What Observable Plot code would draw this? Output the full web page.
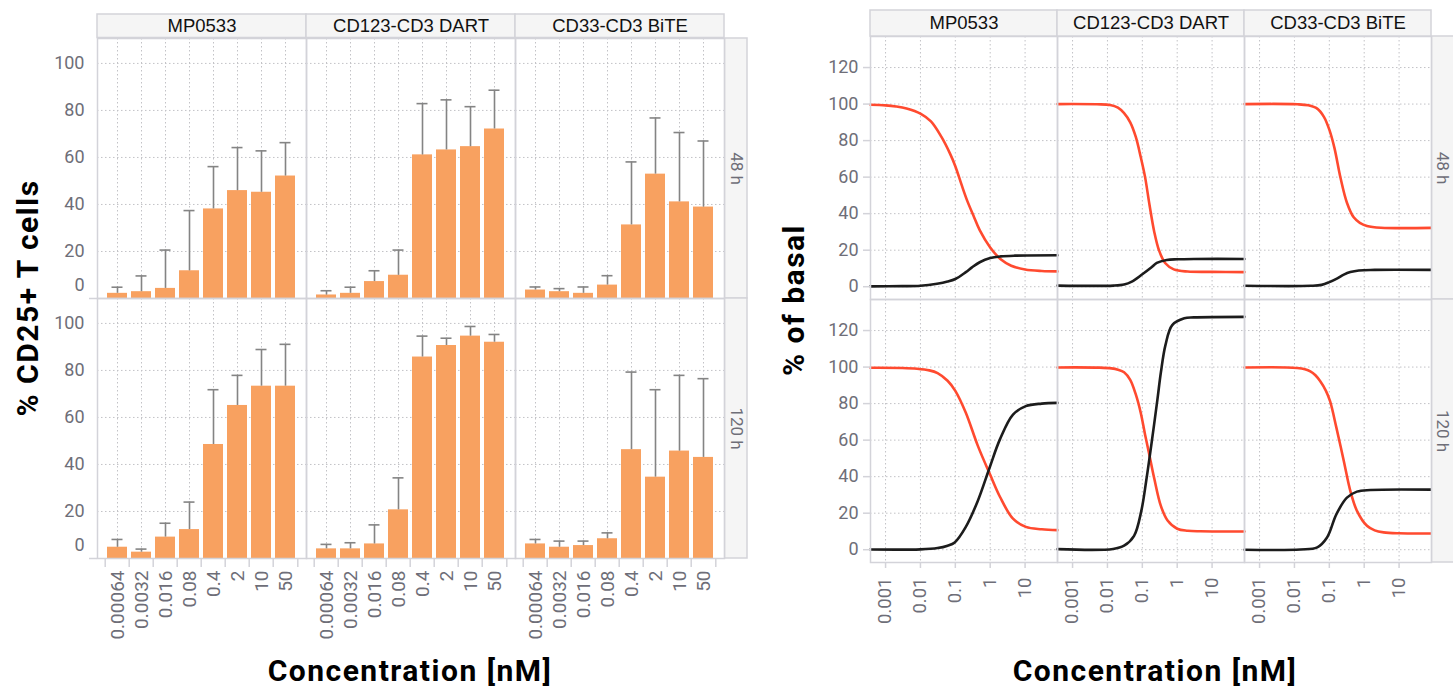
<!DOCTYPE html>
<html><head><meta charset="utf-8">
<script src="https://cdn.jsdelivr.net/npm/d3@7"></script>
<script src="https://cdn.jsdelivr.net/npm/@observablehq/plot@0.6"></script>
<style>
body{margin:0;background:#fff;}
#wrap{position:relative;width:1453px;height:689px;overflow:hidden;background:#fff;}
#left,#right{position:absolute;top:0;}
#left{left:0;} #right{left:760px;}
.title{position:absolute;font-family:Roboto,sans-serif;font-weight:700;font-size:30px;letter-spacing:1.5px;color:#000;white-space:nowrap;transform:translate(-50%,-50%);line-height:1;}
.rot{transform:translate(-50%,-50%) rotate(-90deg);}
</style></head><body>
<div id="wrap"><div id="left"></div><div id="right"></div></div>
<script>
// ---------- categories / labels ----------
const drugs = ["MP0533", "CD123-CD3 DART", "CD33-CD3 BiTE"];
const times = ["48 h", "120 h"];
const concLabels = ["0.00064", "0.0032", "0.016", "0.08", "0.4", "2", "10", "50"];
const yTitleLeft = "% CD25+ T cells";
const yTitleRight = "% of basal";
const xTitle = "Concentration [nM]";

// ---------- bar chart values (mean and upper error) ----------
const mp0533_48h_mean = [2.2, 2.9, 4.3, 11.8, 38.1, 45.9, 45.2, 52.1];
const mp0533_48h_sd   = [2.6, 6.7, 16.3, 25.6, 18.0, 18.3, 17.6, 14.2];
const cd123_48h_mean  = [1.5, 2.2, 7.2, 9.9, 61.1, 63.2, 64.6, 72.1];
const cd123_48h_sd    = [1.8, 2.6, 4.6, 10.7, 21.8, 21.3, 17.0, 16.5];
const cd33_48h_mean   = [3.6, 2.9, 2.2, 5.7, 31.3, 52.9, 41.1, 38.9];
const cd33_48h_sd     = [1.3, 1.3, 2.7, 4.0, 26.8, 23.9, 29.5, 28.1];
const mp0533_120h_mean = [4.8, 2.7, 9.1, 12.3, 48.5, 65.1, 73.3, 73.3];
const mp0533_120h_sd   = [3.3, 1.3, 5.9, 11.7, 23.3, 12.8, 15.6, 17.8];
const cd123_120h_mean  = [4.1, 4.1, 6.2, 20.7, 85.7, 90.6, 94.6, 92.0];
const cd123_120h_sd    = [1.9, 2.6, 8.1, 13.6, 8.9, 3.1, 4.1, 3.3];
const cd33_120h_mean   = [6.2, 4.8, 5.5, 8.4, 46.3, 34.6, 45.7, 43.0];
const cd33_120h_sd     = [1.9, 2.6, 1.9, 2.5, 33.0, 37.2, 32.2, 33.5];

// ---------- curve values [concentration nM, % of basal] ----------
const curveTicks = [0.001, 0.01, 0.1, 1, 10];
const curveTickLabels = ["0.001", "0.01", "0.1", "1", "10"];
const mp0533_48h_red = [[0.00037,99.6],[0.001,99.3],[0.002,98.7],[0.004,97.6],[0.01,94.8],[0.02,90.5],[0.04,82],[0.07,73],[0.1,66],[0.15,56],[0.22,47],[0.33,39],[0.5,31],[1,21.5],[2,15],[4,11.5],[10,9.4],[30,8.6],[85,8.4]];
const mp0533_48h_black = [[0.00037,0.2],[0.003,0.3],[0.01,0.5],[0.03,1.6],[0.06,2.8],[0.1,4.2],[0.2,8],[0.3,10.6],[0.5,13.4],[1,15.7],[2,16.6],[5,17],[85,17.2]];
const cd123_48h_red = [[0.00037,100],[0.005,99.9],[0.012,99.5],[0.02,98],[0.03,95],[0.045,90],[0.065,82],[0.09,71],[0.12,60],[0.16,45],[0.22,30],[0.3,20],[0.45,13],[0.8,9.5],[2,8.3],[10,8.1],[85,8]];
const cd123_48h_black = [[0.00037,0.6],[0.015,0.6],[0.03,1.2],[0.05,2.8],[0.1,6.8],[0.18,10.5],[0.26,13],[0.5,14.6],[1,15],[3,15.2],[85,15.2]];
const cd33_48h_red = [[0.00037,100],[0.012,99.9],[0.025,99.3],[0.045,97.5],[0.07,93],[0.1,86],[0.14,76],[0.21,59.5],[0.32,46],[0.5,38],[0.75,35],[1.2,33.3],[3,32.3],[85,32.2]];
const cd33_48h_black = [[0.00037,0.5],[0.03,0.5],[0.06,1],[0.1,2.5],[0.17,4.6],[0.26,6.6],[0.4,8],[0.7,8.9],[2,9.2],[85,9.2]];
const mp0533_120h_red = [[0.00037,99.6],[0.003,99.5],[0.008,99.1],[0.018,98.2],[0.031,96.7],[0.06,92.5],[0.1,87],[0.2,75],[0.44,57],[1,41],[1.9,29],[4.5,17],[10.5,12.5],[30,11.2],[85,10.7]];
const mp0533_120h_black = [[0.00037,0.1],[0.01,0.2],[0.031,0.9],[0.06,2.2],[0.096,4],[0.2,12.5],[0.44,26.7],[0.96,44.9],[1.9,60.4],[4.5,74],[10.5,78.6],[30,80],[85,80.4]];
const cd123_120h_red = [[0.00037,99.8],[0.006,99.7],[0.013,99.3],[0.02,98.6],[0.03,97.2],[0.045,93],[0.065,85],[0.09,75],[0.12,63],[0.155,53],[0.22,39],[0.34,24],[0.53,16],[1,11.5],[2,10.4],[4.6,10.1],[85,10]];
const cd123_120h_black = [[0.00037,0.3],[0.0145,0.4],[0.03,2.2],[0.058,7.6],[0.093,21],[0.13,38],[0.18,57],[0.27,82],[0.34,97],[0.46,112],[0.72,123],[1.6,126.7],[3,127.2],[85,127.5]];
const cd33_120h_red = [[0.00037,99.8],[0.006,99.8],[0.012,99.5],[0.02,98.8],[0.0285,97.7],[0.04,95.5],[0.055,92.2],[0.08,87],[0.105,81.3],[0.16,66.7],[0.26,48.6],[0.4,32.2],[0.62,21.3],[1.2,13.1],[2,10.6],[3.6,9.5],[10,9],[85,8.9]];
const cd33_120h_black = [[0.00037,0],[0.015,0.1],[0.045,1.3],[0.086,6.7],[0.16,19.5],[0.32,28.5],[0.62,31.8],[1.5,32.7],[85,32.9]];

// ---------- build tables ----------
const barSeries = [
  [drugs[0], times[0], mp0533_48h_mean, mp0533_48h_sd],
  [drugs[1], times[0], cd123_48h_mean, cd123_48h_sd],
  [drugs[2], times[0], cd33_48h_mean, cd33_48h_sd],
  [drugs[0], times[1], mp0533_120h_mean, mp0533_120h_sd],
  [drugs[1], times[1], cd123_120h_mean, cd123_120h_sd],
  [drugs[2], times[1], cd33_120h_mean, cd33_120h_sd]
];
const bars = barSeries.flatMap(([drug, time, m, s]) =>
  m.map((v, i) => ({drug, time, conc: concLabels[i], value: v, upper: v + s[i]})));

const curveSeries = [
  [drugs[0], times[0], "red", mp0533_48h_red], [drugs[0], times[0], "black", mp0533_48h_black],
  [drugs[1], times[0], "red", cd123_48h_red], [drugs[1], times[0], "black", cd123_48h_black],
  [drugs[2], times[0], "red", cd33_48h_red], [drugs[2], times[0], "black", cd33_48h_black],
  [drugs[0], times[1], "red", mp0533_120h_red], [drugs[0], times[1], "black", mp0533_120h_black],
  [drugs[1], times[1], "red", cd123_120h_red], [drugs[1], times[1], "black", cd123_120h_black],
  [drugs[2], times[1], "red", cd33_120h_red], [drugs[2], times[1], "black", cd33_120h_black]
];
const curvePts = curveSeries.flatMap(([drug, time, kind, pts]) =>
  pts.map(([c, v]) => ({drug, time, kind, key: drug + "|" + time + "|" + kind, conc: c, value: v})));

// ---------- styling ----------
const grey = "#6e6e78", border = "#d3d3d9", gridc = "#c2c2c6";
const stripFill = "#f5f5f5";
const headerFont = "'Liberation Sans', Arial, sans-serif";
const dash = "1.5,2.5";

// ---------- left chart ----------
const LW = 760, LH = 689, Lml = 96, Lmr = 35, Lmt = 37, Lmb = 131;
const LframeW = (LW - Lml - Lmr) / 3, LframeH = (LH - Lmt - Lmb) / 2;
const xPadInner = 0.146, xPadOuter = 0.333;
const Lstep = LframeW / (concLabels.length - xPadInner + 2 * xPadOuter);

const left = Plot.plot({
  width: LW, height: LH, marginLeft: Lml, marginRight: Lmr, marginTop: Lmt, marginBottom: Lmb,
  style: {fontFamily: "Roboto, sans-serif", fontSize: "18px", background: "transparent", overflow: "visible"},
  fx: {domain: drugs, padding: 0, axis: null, label: null},
  fy: {domain: times, padding: 0, axis: null, label: null},
  x: {domain: concLabels, paddingInner: xPadInner, paddingOuter: xPadOuter, axis: null, label: null},
  y: {domain: [0, 110.6], axis: null, label: null},
  marks: [
    Plot.gridY({ticks: [20, 40, 60, 80, 100], stroke: gridc, strokeOpacity: 1, strokeDasharray: dash}),
    Plot.gridX({stroke: gridc, strokeOpacity: 1, strokeDasharray: dash}),
    Plot.barY(bars, {fx: "drug", fy: "time", x: "conc", y: "value", fill: "#f8a160"}),
    Plot.ruleX(bars, {fx: "drug", fy: "time", x: "conc", y1: "value", y2: "upper", stroke: "#848484", strokeWidth: 1.6}),
    Plot.tickY(bars, {fx: "drug", fy: "time", x: "conc", y: "upper", stroke: "#848484", strokeWidth: 1.6, insetLeft: 4.5, insetRight: 4.5}),
    Plot.frame({stroke: border, strokeWidth: 1.5}),
    Plot.axisY({ticks: [20, 40, 60, 80, 100], tickSize: 0, tickPadding: 13, fill: grey, label: null, fontSize: 18}),
    Plot.axisY({ticks: [0], tickSize: 8, fill: "none", stroke: border, strokeWidth: 1.5, label: null}),
    Plot.axisY({ticks: [0], tickSize: 0, tickPadding: 13, dy: -13, fill: grey, label: null, fontSize: 18}),
    Plot.axisX({tickSize: 9, fill: "none", stroke: border, strokeWidth: 1.5, dx: -Lstep / 2, label: null}),
    Plot.axisX({ticks: [concLabels[concLabels.length - 1]], tickSize: 9, fill: "none", stroke: border, strokeWidth: 1.5, dx: Lstep / 2, label: null}),
    Plot.axisX({tickSize: 0, tickPadding: 12, tickRotate: -90, fill: grey, label: null, fontSize: 19}),
    Plot.rect(drugs, {fx: d => d, fy: () => times[0], insetTop: -24, insetBottom: LframeH, fill: stripFill, stroke: border, strokeWidth: 1.5}),
    Plot.text(drugs, {fx: d => d, fy: () => times[0], text: d => d, frameAnchor: "top", lineAnchor: "middle", dy: -12, fontFamily: headerFont, fontSize: 18.5, fill: "#111"}),
    Plot.rect(times, {fx: () => drugs[2], fy: d => d, insetLeft: LframeW, insetRight: -23, fill: stripFill, stroke: border, strokeWidth: 1.5}),
    Plot.text(times, {fx: () => drugs[2], fy: d => d, text: d => d, frameAnchor: "right", textAnchor: "middle", lineAnchor: "middle", dx: 11.5, rotate: 90, fill: grey, fontSize: 17})
  ]
});
document.getElementById("left").append(left);

// ---------- right chart ----------
const RW = 693, RH = 689, Rml = 109, Rmr = 21, Rmt = 36, Rmb = 127;
const RframeW = (RW - Rml - Rmr) / 3, RframeH = (RH - Rmt - Rmb) / 2;

const right = Plot.plot({
  width: RW, height: RH, marginLeft: Rml, marginRight: Rmr, marginTop: Rmt, marginBottom: Rmb,
  style: {fontFamily: "Roboto, sans-serif", fontSize: "18px", background: "transparent", overflow: "visible"},
  fx: {domain: drugs, padding: 0, axis: null, label: null},
  fy: {domain: times, padding: 0, axis: null, label: null},
  x: {type: "log", domain: [0.00037, 85], axis: null, label: null},
  y: {domain: [-7, 137], axis: null, label: null},
  marks: [
    Plot.gridY({ticks: [0, 20, 40, 60, 80, 100, 120], stroke: gridc, strokeOpacity: 1, strokeDasharray: dash}),
    Plot.gridX({ticks: curveTicks, stroke: gridc, strokeOpacity: 1, strokeDasharray: dash}),
    Plot.line(curvePts.filter(d => d.kind === "red"), {fx: "drug", fy: "time", x: "conc", y: "value", z: "key", stroke: "#ff4a2f", strokeWidth: 2.6, curve: "catmull-rom"}),
    Plot.line(curvePts.filter(d => d.kind === "black"), {fx: "drug", fy: "time", x: "conc", y: "value", z: "key", stroke: "#1c1c1c", strokeWidth: 2.6, curve: "catmull-rom"}),
    Plot.frame({stroke: border, strokeWidth: 1.5}),
    Plot.axisY({ticks: [0, 20, 40, 60, 80, 100, 120], tickSize: 7, tickPadding: 5, stroke: border, strokeWidth: 1.5, fill: grey, label: null, fontSize: 18}),
    Plot.axisX({ticks: curveTicks, tickFormat: d => curveTickLabels[curveTicks.indexOf(d)], tickSize: 6, tickPadding: 9, tickRotate: -90, stroke: border, strokeWidth: 1.5, fill: grey, label: null, fontSize: 18.5}),
    Plot.rect(drugs, {fx: d => d, fy: () => times[0], insetTop: -26, insetBottom: RframeH, fill: stripFill, stroke: border, strokeWidth: 1.5}),
    Plot.text(drugs, {fx: d => d, fy: () => times[0], text: d => d, frameAnchor: "top", lineAnchor: "middle", dy: -13, fontFamily: headerFont, fontSize: 18.5, fill: "#111"}),
    Plot.rect(times, {fx: () => drugs[2], fy: d => d, insetLeft: RframeW, insetRight: -23, fill: stripFill, stroke: border, strokeWidth: 1.5}),
    Plot.text(times, {fx: () => drugs[2], fy: d => d, text: d => d, frameAnchor: "right", textAnchor: "middle", lineAnchor: "middle", dx: 11, rotate: 90, fill: grey, fontSize: 17})
  ]
});
document.getElementById("right").append(right);

// ---------- axis titles ----------
function addTitle(text, x, y, rot) {
  const el = document.createElement("div");
  el.className = "title" + (rot ? " rot" : "");
  el.textContent = text;
  el.style.left = x + "px";
  el.style.top = y + "px";
  document.getElementById("wrap").append(el);
}
addTitle(yTitleLeft, 28, 298, true);
addTitle(xTitle, 410, 671, false);
addTitle(yTitleRight, 794, 300, true);
addTitle(xTitle, 1155, 671, false);
</script>
</body></html>
